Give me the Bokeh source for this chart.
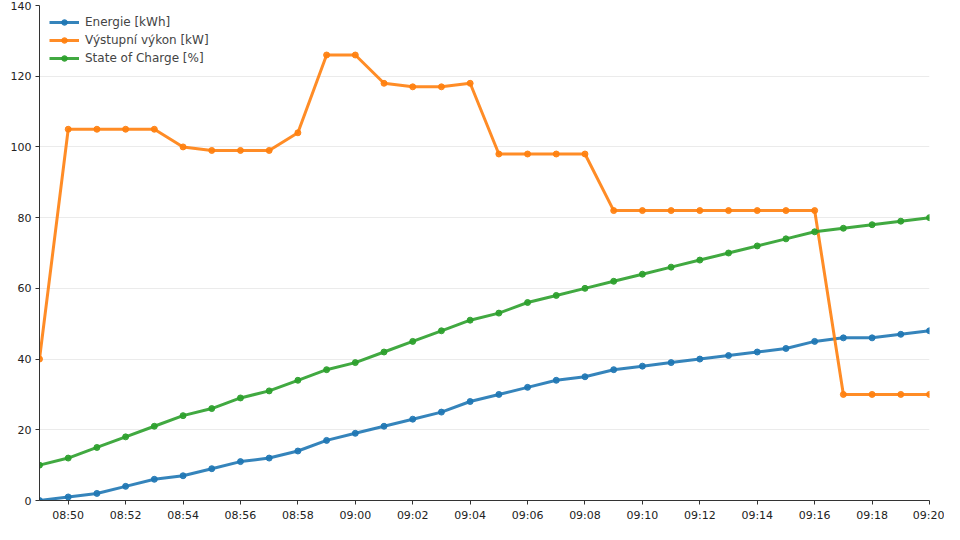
from datetime import datetime, timedelta
from bokeh.plotting import figure
from bokeh.models import (DatetimeTickFormatter, SingleIntervalTicker, FixedTicker,
                          Legend, LegendItem, Range1d)
from bokeh.embed import file_html
from bokeh.resources import INLINE

start = datetime(2024, 1, 1, 8, 49)
times = [start + timedelta(minutes=i) for i in range(32)]

energie = [0, 1, 2, 4, 6, 7, 9, 11, 12, 14, 17, 19, 21, 23, 25, 28, 30, 32, 34, 35,
           37, 38, 39, 40, 41, 42, 43, 45, 46, 46, 47, 48]
vykon = [40, 105, 105, 105, 105, 100, 99, 99, 99, 104, 126, 126, 118, 117, 117, 118,
         98, 98, 98, 98, 82, 82, 82, 82, 82, 82, 82, 82, 30, 30, 30, 30]
soc = [10, 12, 15, 18, 21, 24, 26, 29, 31, 34, 37, 39, 42, 45, 48, 51, 53, 56, 58, 60,
       62, 64, 66, 68, 70, 72, 74, 76, 77, 78, 79, 80]

labels = ["Energie [kWh]", "Výstupní výkon [kW]", "State of Charge [%]"]
colors = ["#1f77b4", "#ff7f0e", "#2ca02c"]

p = figure(width=944, height=524, x_axis_type="datetime", output_backend="svg",
           toolbar_location=None, min_border_left=39, min_border_right=15,
           min_border_top=5, min_border_bottom=19)
p.x_range = Range1d(times[0], times[-1])
p.y_range = Range1d(0, 140)

items = []
for ys, lab, col in zip([energie, vykon, soc], labels, colors):
    r1 = p.line(times, ys, line_width=3, color=col, alpha=0.9)
    r2 = p.scatter(times, ys, size=6, color=col, alpha=0.9)
    items.append(LegendItem(label=lab, renderers=[r1, r2]))

legend = Legend(items=items, location="top_left", border_line_alpha=0,
                background_fill_alpha=0, label_text_font="DejaVu Sans",
                label_text_font_size="12px", glyph_width=30, glyph_height=14,
                spacing=4, padding=6, margin=4, label_standoff=6)
p.add_layout(legend)

p.xaxis.ticker = SingleIntervalTicker(interval=120000, num_minor_ticks=0)
p.xaxis.formatter = DatetimeTickFormatter(minutes="%H:%M", hourmin="%H:%M", hours="%H:%M")
p.yaxis.ticker = FixedTicker(ticks=[0, 20, 40, 60, 80, 100, 120, 140])

for ax in [p.xaxis, p.yaxis]:
    ax.major_label_text_font = "DejaVu Sans"
    ax.major_label_text_font_size = "11px"
    ax.major_label_text_color = "#222222"
    ax.axis_line_color = "#333333"
    ax.major_tick_line_color = "#333333"
    ax.major_tick_out = 4
    ax.major_tick_in = 0
    ax.minor_tick_line_color = None
    ax.major_label_standoff = 4

p.xgrid.grid_line_color = None
p.ygrid.grid_line_color = "#ebebeb"
p.outline_line_color = None

open("out.html", "w").write(file_html(p, INLINE))
